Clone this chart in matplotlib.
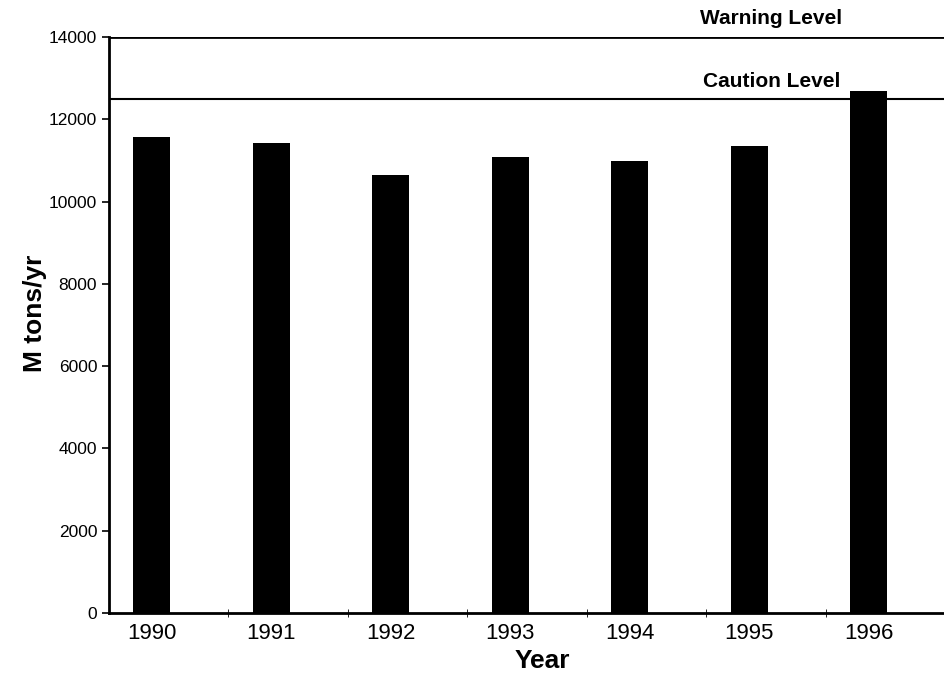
import matplotlib

matplotlib.use("Agg")
import matplotlib.pyplot as plt
import numpy as np

years = ["1990", "1991", "1992", "1993", "1994", "1995", "1996"]
tons = [11570, 11420, 10640, 11090, 10980, 11340, 12680]
warning_level = 14000
caution_level = 12500

plt.rcParams["font.family"] = ["Liberation Sans", "DejaVu Sans"]

fig = plt.figure(figsize=(9.45, 6.77), dpi=100)
ax = fig.add_axes([0.1153, 0.0945, 0.8847, 0.8508])

x = np.arange(len(years))
ax.bar(x, tons, width=0.31, color="black")

ax.axhline(warning_level, color="black", lw=2)
ax.axhline(caution_level, color="black", lw=1.5)
ax.text(5.78, warning_level + 230, "Warning Level", fontsize=15, fontweight="bold",
        ha="right", va="bottom")
ax.text(5.76, caution_level + 200, "Caution Level", fontsize=15, fontweight="bold",
        ha="right", va="bottom")

ax.set_xlim(-0.36, 6.64)
ax.set_ylim(0, 14000)
ax.set_yticks(range(0, 14001, 2000))
ax.set_xticks(x)
ax.set_xticklabels(years, fontsize=16)
ax.set_xticks(x + 0.64, minor=True)
ax.tick_params(axis="x", which="major", length=0, pad=7)
ax.tick_params(axis="x", which="minor", direction="inout", length=6)
ax.tick_params(axis="y", labelsize=12.5, direction="out", length=5, width=1.2)

for side in ["top", "right"]:
    ax.spines[side].set_visible(False)
ax.spines["left"].set_linewidth(2)
ax.spines["bottom"].set_linewidth(2)

ax.set_ylabel("M tons/yr", fontsize=19, fontweight="bold")
ax.set_xlabel("Year", fontsize=19, fontweight="bold")
ax.yaxis.set_label_coords(-0.074, 0.52)
ax.xaxis.set_label_coords(0.518, -0.062)

fig.savefig("out.png", dpi=100)
